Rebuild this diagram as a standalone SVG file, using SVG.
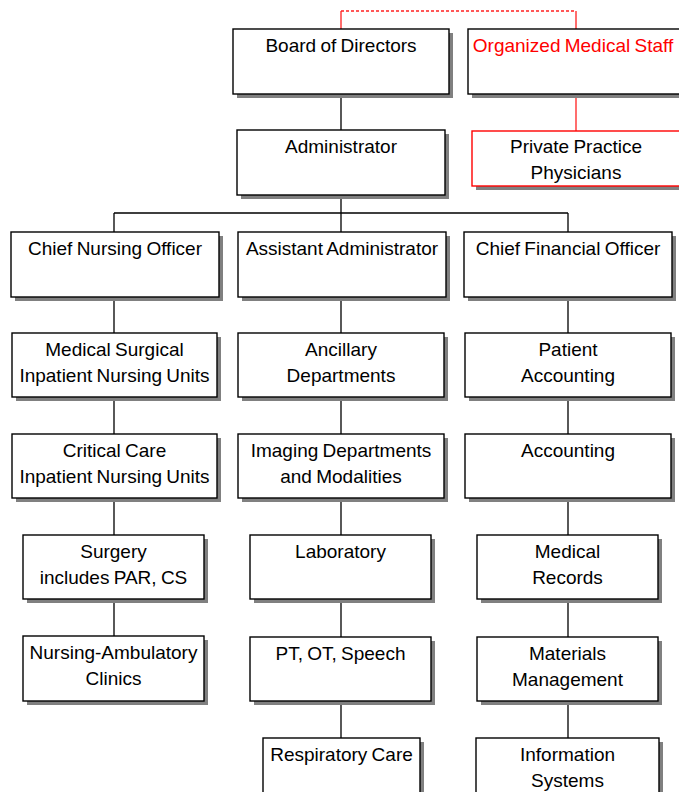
<svg xmlns="http://www.w3.org/2000/svg" width="679" height="792" viewBox="0 0 679 792">
<style>
.box{fill:#fff;stroke:#000;stroke-width:1.4}
.rbox{fill:#fff;stroke:#ff0000;stroke-width:1.4}
.sh{fill:#808080}
.t{font-family:"Liberation Sans",Arial,sans-serif;font-size:19px;fill:#000;text-anchor:middle;word-spacing:-1px}
.rt{fill:#ff0000}
.ln{stroke:#000;stroke-width:1.3;fill:none}
.rl{stroke:#ff2020;stroke-width:1.3;fill:none}
.rd{stroke:#ff2020;stroke-width:1.3;fill:none;stroke-dasharray:3 2}
</style>
<rect width="679" height="792" fill="#fff"/>
<g id="connectors">
<path class="ln" d="M341 94V130M341 195V213M114 213H568M114 213V232M341 213V232M568 213V232"/>
<path class="ln" d="M114 297V333M114 397V434M114 498V535M114 599V636"/>
<path class="ln" d="M341 297V333M341 397V434M341 498V535M341 599V637M341 701V738"/>
<path class="ln" d="M568 297V333M568 397V434M568 498V535M568 599V637M568 701V738"/>
<path class="rl" d="M576 94V131"/>
<path class="rl" d="M341 29V11M576 11V29"/>
<path class="rd" d="M341 11H576"/>
</g>
<g id="board"><rect class="sh" x="237" y="33" width="216" height="65"/><rect class="box" x="233" y="29" width="216" height="65"/><text class="t" x="341" y="52">Board of Directors</text></g>
<g id="oms"><rect class="sh" x="472" y="33" width="217" height="65"/><rect class="box" x="468" y="29" width="217" height="65"/><text class="t rt" x="573" y="52">Organized Medical Staff</text></g>
<g id="admin"><rect class="sh" x="241" y="134" width="208" height="65"/><rect class="box" x="237" y="130" width="208" height="65"/><text class="t" x="341" y="153">Administrator</text></g>
<g id="ppp"><rect class="sh" x="476" y="135" width="208" height="55"/><rect class="rbox" x="472" y="131" width="208" height="55"/><text class="t" x="576" y="153">Private Practice</text><text class="t" x="576" y="179">Physicians</text></g>
<g id="cno"><rect class="sh" x="15" y="236" width="208" height="65"/><rect class="box" x="11" y="232" width="208" height="65"/><text class="t" x="115" y="255">Chief Nursing Officer</text></g>
<g id="aa"><rect class="sh" x="242" y="236" width="208" height="65"/><rect class="box" x="238" y="232" width="208" height="65"/><text class="t" x="342" y="255">Assistant Administrator</text></g>
<g id="cfo"><rect class="sh" x="468" y="236" width="208" height="65"/><rect class="box" x="464" y="232" width="208" height="65"/><text class="t" x="568" y="255">Chief Financial Officer</text></g>
<g id="medsurg"><rect class="sh" x="16" y="337" width="205" height="64"/><rect class="box" x="12" y="333" width="205" height="64"/><text class="t" x="114.5" y="356">Medical Surgical</text><text class="t" x="114.5" y="382">Inpatient Nursing Units</text></g>
<g id="ancillary"><rect class="sh" x="242" y="337" width="206" height="64"/><rect class="box" x="238" y="333" width="206" height="64"/><text class="t" x="341" y="356">Ancillary</text><text class="t" x="341" y="382">Departments</text></g>
<g id="patacc"><rect class="sh" x="469" y="337" width="206" height="64"/><rect class="box" x="465" y="333" width="206" height="64"/><text class="t" x="568" y="356">Patient</text><text class="t" x="568" y="382">Accounting</text></g>
<g id="critical"><rect class="sh" x="16" y="438" width="205" height="64"/><rect class="box" x="12" y="434" width="205" height="64"/><text class="t" x="114.5" y="457">Critical Care</text><text class="t" x="114.5" y="483">Inpatient Nursing Units</text></g>
<g id="imaging"><rect class="sh" x="242" y="438" width="206" height="64"/><rect class="box" x="238" y="434" width="206" height="64"/><text class="t" x="341" y="457">Imaging Departments</text><text class="t" x="341" y="483">and Modalities</text></g>
<g id="accounting"><rect class="sh" x="469" y="438" width="206" height="64"/><rect class="box" x="465" y="434" width="206" height="64"/><text class="t" x="568" y="457">Accounting</text></g>
<g id="surgery"><rect class="sh" x="27" y="539" width="181" height="64"/><rect class="box" x="23" y="535" width="181" height="64"/><text class="t" x="113.5" y="558">Surgery</text><text class="t" x="113.5" y="584">includes PAR, CS</text></g>
<g id="lab"><rect class="sh" x="254" y="539" width="181" height="64"/><rect class="box" x="250" y="535" width="181" height="64"/><text class="t" x="340.5" y="558">Laboratory</text></g>
<g id="medrec"><rect class="sh" x="481" y="539" width="181" height="64"/><rect class="box" x="477" y="535" width="181" height="64"/><text class="t" x="567.5" y="558">Medical</text><text class="t" x="567.5" y="584">Records</text></g>
<g id="nursamb"><rect class="sh" x="27" y="640" width="181" height="65"/><rect class="box" x="23" y="636" width="181" height="65"/><text class="t" x="113.5" y="659">Nursing-Ambulatory</text><text class="t" x="113.5" y="685">Clinics</text></g>
<g id="pt"><rect class="sh" x="254" y="641" width="181" height="64"/><rect class="box" x="250" y="637" width="181" height="64"/><text class="t" x="340.5" y="660">PT, OT, Speech</text></g>
<g id="materials"><rect class="sh" x="481" y="641" width="181" height="64"/><rect class="box" x="477" y="637" width="181" height="64"/><text class="t" x="567.5" y="660">Materials</text><text class="t" x="567.5" y="686">Management</text></g>
<g id="resp"><rect class="sh" x="267" y="742" width="157" height="64"/><rect class="box" x="263" y="738" width="157" height="64"/><text class="t" x="341.5" y="761">Respiratory Care</text></g>
<g id="infosys"><rect class="sh" x="480" y="742" width="183" height="64"/><rect class="box" x="476" y="738" width="183" height="64"/><text class="t" x="567.5" y="761">Information</text><text class="t" x="567.5" y="787">Systems</text></g>
</svg>
